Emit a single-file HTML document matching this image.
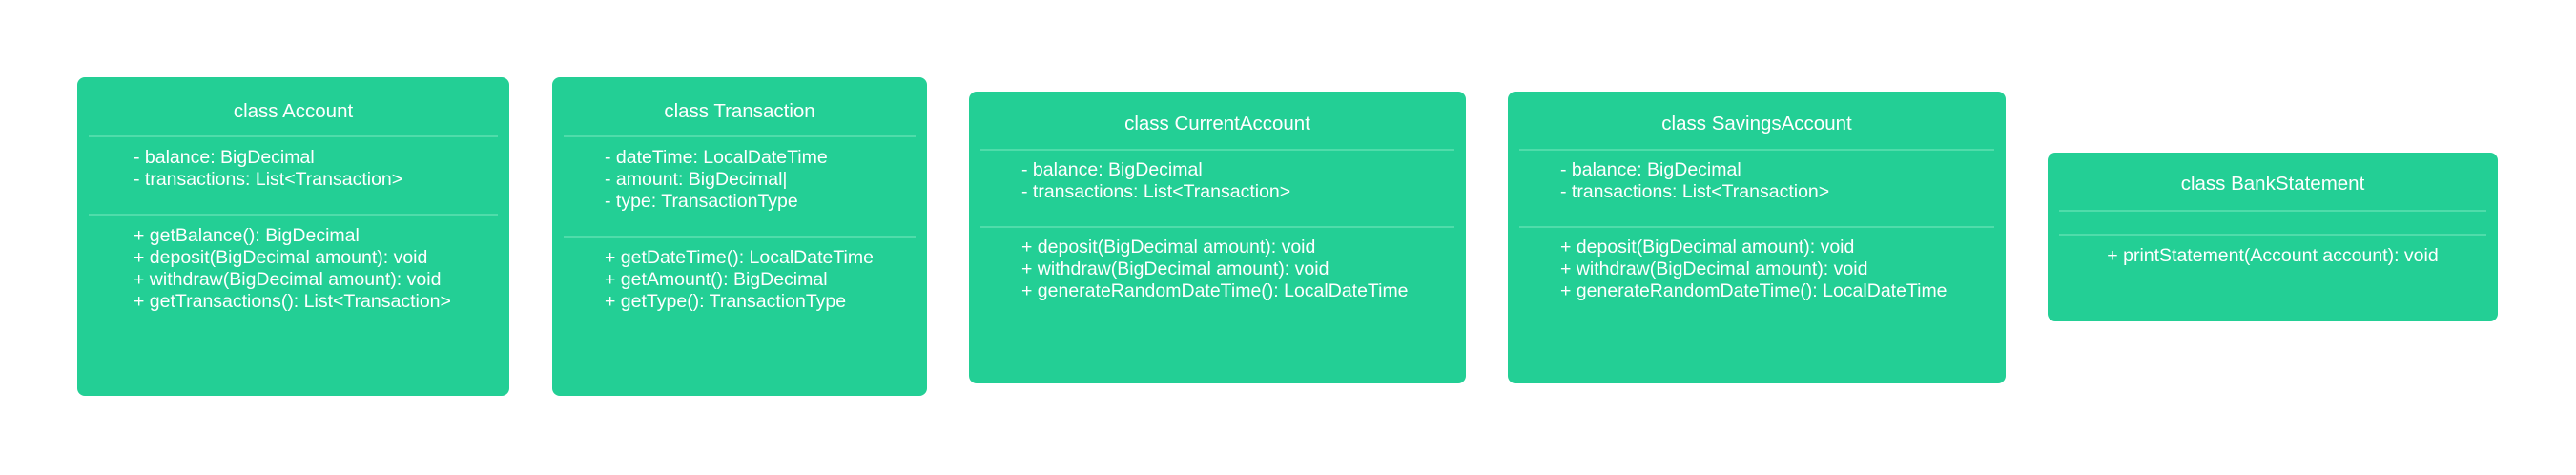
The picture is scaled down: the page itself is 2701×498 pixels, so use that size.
<!DOCTYPE html>
<html><head><meta charset="utf-8"><style>
html,body{margin:0;padding:0;background:#fff;}
body{width:2701px;height:498px;position:relative;overflow:hidden;font-family:"Liberation Sans",Arial,sans-serif;color:#fff;}
.box{position:absolute;background:#23cf95;border-radius:8px;}
.t{position:absolute;left:0;right:0;text-align:center;font-size:20.5px;line-height:26px;}
.d{position:absolute;left:12px;right:12px;height:2px;background:#4fdcaa;}
.l{position:absolute;font-size:19.5px;line-height:23px;white-space:pre;}
</style></head><body>

<div class="box" style="left:81px;top:81px;width:453px;height:334px;">
<div class="t" style="top:23px;">class Account</div>
<div class="d" style="top:61px;"></div>
<div class="l" style="left:59px;top:73px;">- balance: BigDecimal
- transactions: List&lt;Transaction&gt;</div>
<div class="d" style="top:143px;"></div>
<div class="l" style="left:59px;top:155px;">+ getBalance(): BigDecimal
+ deposit(BigDecimal amount): void
+ withdraw(BigDecimal amount): void
+ getTransactions(): List&lt;Transaction&gt;</div>
</div>

<div class="box" style="left:579px;top:81px;width:393px;height:334px;">
<div class="t" style="top:23px;">class Transaction</div>
<div class="d" style="top:61px;"></div>
<div class="l" style="left:55px;top:73px;">- dateTime: LocalDateTime
- amount: BigDecimal|
- type: TransactionType</div>
<div class="d" style="top:166px;"></div>
<div class="l" style="left:55px;top:178px;">+ getDateTime(): LocalDateTime
+ getAmount(): BigDecimal
+ getType(): TransactionType</div>
</div>

<div class="box" style="left:1016px;top:96px;width:521px;height:306px;">
<div class="t" style="top:21px;">class CurrentAccount</div>
<div class="d" style="top:60px;"></div>
<div class="l" style="left:55px;top:71px;">- balance: BigDecimal
- transactions: List&lt;Transaction&gt;</div>
<div class="d" style="top:141px;"></div>
<div class="l" style="left:55px;top:152px;">+ deposit(BigDecimal amount): void
+ withdraw(BigDecimal amount): void
+ generateRandomDateTime(): LocalDateTime</div>
</div>

<div class="box" style="left:1581px;top:96px;width:522px;height:306px;">
<div class="t" style="top:21px;">class SavingsAccount</div>
<div class="d" style="top:60px;"></div>
<div class="l" style="left:55px;top:71px;">- balance: BigDecimal
- transactions: List&lt;Transaction&gt;</div>
<div class="d" style="top:141px;"></div>
<div class="l" style="left:55px;top:152px;">+ deposit(BigDecimal amount): void
+ withdraw(BigDecimal amount): void
+ generateRandomDateTime(): LocalDateTime</div>
</div>

<div class="box" style="left:2147px;top:160px;width:472px;height:177px;">
<div class="t" style="top:20px;">class BankStatement</div>
<div class="d" style="top:60px;"></div>
<div class="d" style="top:85px;"></div>
<div class="l" style="left:0;right:0;text-align:center;top:97px;">+ printStatement(Account account): void</div>
</div>

</body></html>
